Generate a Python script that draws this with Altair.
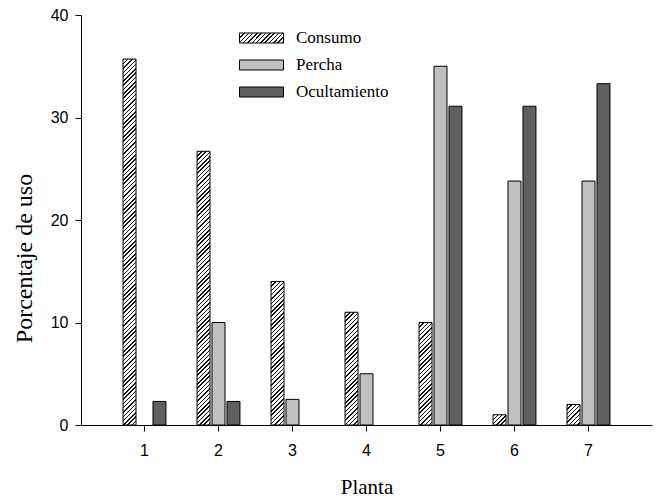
import math
import altair as alt
import pandas as pd

# ---- data ----
plantas = ["1", "2", "3", "4", "5", "6", "7"]
series = ["Consumo", "Percha", "Ocultamiento"]
consumo = [35.7, 26.7, 14.0, 11.0, 10.0, 1.0, 2.0]
percha = [0.0, 10.0, 2.5, 5.0, 35.0, 23.8, 23.8]
ocultamiento = [2.3, 2.3, 0.0, 0.0, 31.1, 31.1, 33.3]

rows = []
for i, p in enumerate(plantas):
    rows.append({"planta": p, "serie": "Consumo", "valor": consumo[i]})
    rows.append({"planta": p, "serie": "Percha", "valor": percha[i]})
    rows.append({"planta": p, "serie": "Ocultamiento", "valor": ocultamiento[i]})
df = pd.DataFrame(rows)

# ---- layout ----
W, H = 571, 410
Y_MAX = 40
PAD_IN, PAD_OUT = 0.42, 0.568
OFF_PAD = 0.133
step = W / (len(plantas) - PAD_IN + 2 * PAD_OUT)
band = step * (1 - PAD_IN)
bar_w = band / (3 - OFF_PAD) * (1 - OFF_PAD)
px_per_unit = H / Y_MAX


def hatch_stops(w, h, period=4.3, line=1.5, dark="#111111", light="#ffffff"):
    L = w + h
    c = L / (w * w + h * h)
    x2, y2 = w * c, h * c
    stops = []
    k = 0
    while k * period < L:
        s = k * period / L
        e = min((k * period + line) / L, 1.0)
        nxt = min((k + 1) * period / L, 1.0)
        stops += [(s, dark), (e, dark), (e, light), (nxt, light)]
        k += 1
    return x2, y2, stops


def hatch_gradient(w, h):
    x2, y2, stops = hatch_stops(w, h)
    return {
        "gradient": "linear",
        "x1": 0, "y1": 0, "x2": x2, "y2": y2,
        "stops": [{"offset": o, "color": c} for o, c in stops],
    }


def hatch_expr(w, h):
    x2, y2, stops = hatch_stops(w, h)
    st = ",".join("{offset:%.5f,color:'%s'}" % (o, c) for o, c in stops)
    return "{gradient:'linear',x1:0,y1:0,x2:%.5f,y2:%.5f,stops:[%s]}" % (x2, y2, st)


SYM_W, SYM_H = 44, 10
sym_path = "M-1,-%.4fH1V%.4fH-1Z" % (SYM_H / SYM_W, SYM_H / SYM_W)

xscale = alt.Scale(domain=plantas, paddingInner=PAD_IN, paddingOuter=PAD_OUT)
offscale = alt.Scale(domain=series, paddingInner=OFF_PAD, paddingOuter=0)
yscale = alt.Scale(domain=[0, Y_MAX], nice=False)

x_enc = alt.X(
    "planta:N", scale=xscale, sort=plantas,
    axis=alt.Axis(title="Planta", labelAngle=0, tickSize=6, labelPadding=11,
                  titleY=68, titleBaseline="alphabetic", titleFontSize=21),
)
y_enc = alt.Y(
    "valor:Q", scale=yscale,
    axis=alt.Axis(title="Porcentaje de uso", values=[0, 10, 20, 30, 40], tickSize=6,
                  labelPadding=7, grid=False, titleX=-49.5, titleY=243,
                  titleAngle=270, titleBaseline="alphabetic", titleAlign="center",
                  titleFontSize=24),
)
off_enc = alt.XOffset("serie:N", scale=offscale, sort=series)

base = alt.Chart(df)

solid = base.transform_filter(
    "datum.serie != 'Consumo' && datum.valor > 0"
).mark_bar(stroke="#000000", strokeWidth=1).encode(
    x=x_enc, xOffset=off_enc, y=y_enc,
    color=alt.Color(
        "serie:N",
        scale=alt.Scale(domain=series,
                        range=[{"expr": hatch_expr(SYM_W, SYM_H)}, "#c0c0c0", "#606060"]),
        legend=alt.Legend(
            title=None, orient="none", legendX=158, legendY=16,
            symbolType=sym_path, symbolSize=SYM_W * SYM_W,
            symbolStrokeColor="#000000", symbolStrokeWidth=1,
            clipHeight=14, rowPadding=10, labelOffset=12, padding=0,
            labelFont="Liberation Serif", labelFontSize=17, labelColor="#000000",
        ),
    ),
)

layers = [solid]
for i, p in enumerate(plantas):
    g = hatch_gradient(bar_w, consumo[i] * px_per_unit)
    layers.append(
        base.transform_filter(
            "datum.serie == 'Consumo' && datum.planta == '%s'" % p
        ).mark_bar(fill=g, stroke="#000000", strokeWidth=1).encode(
            x=x_enc, xOffset=off_enc, y=y_enc
        )
    )

chart = alt.layer(*layers).properties(
    width=W, height=H,
    autosize=alt.AutoSizeParams(type="none"),
    padding={"left": 81, "top": 15, "right": 6, "bottom": 72},
    background="white",
).configure_view(stroke=None).configure_axis(
    domainColor="#000000", tickColor="#000000", labelColor="#000000",
    titleColor="#000000", labelFont="Liberation Sans", labelFontSize=16,
    titleFont="Liberation Serif", titleFontWeight="normal",
)

chart.save("out.html", embed_options={"renderer": "svg", "actions": False})
